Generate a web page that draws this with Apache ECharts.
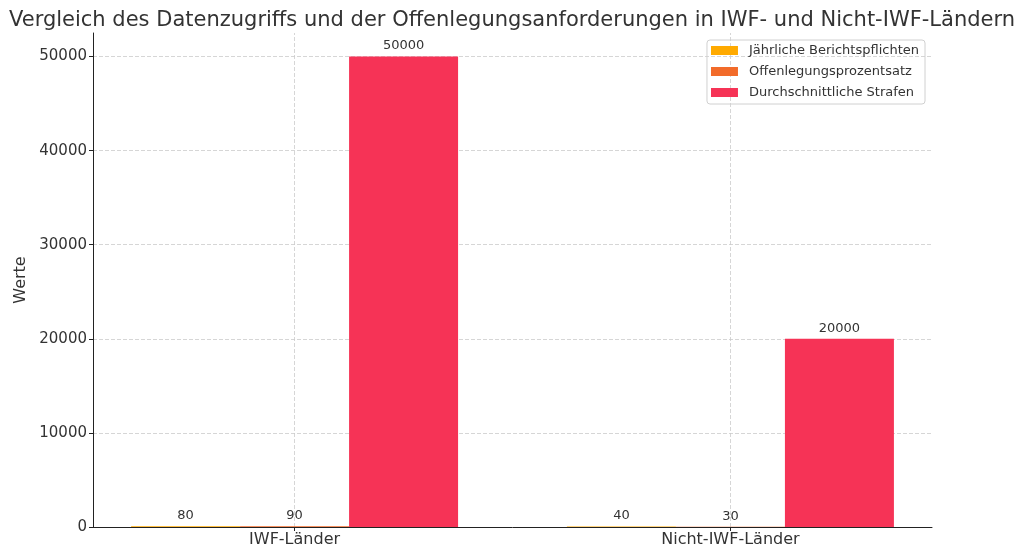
<!DOCTYPE html>
<html><head><meta charset="utf-8">
<script src="https://cdn.jsdelivr.net/npm/echarts@6/dist/echarts.min.js"></script>
<style>html,body{margin:0;padding:0;background:#fff}#c{width:1024px;height:557px}</style>
</head><body><div id="c"></div>
<script>
const categories = ['IWF-Länder', 'Nicht-IWF-Länder'];
const seriesNames = ['Jährliche Berichtspflichten', 'Offenlegungsprozentsatz', 'Durchschnittliche Strafen'];
const berichtspflichten = [80, 40];
const offenlegung = [90, 30];
const strafen = [50000, 20000];
const yTicks = [0, 10000, 20000, 30000, 40000, 50000];
const colors = ['#ffaa00', '#f26b2a', '#f63356'];

const values = [berichtspflichten, offenlegung, strafen];
const FONT = 'DejaVu Sans';
const chart = echarts.init(document.getElementById('c'));
const series = values.map((vals, i) => ({
  name: seriesNames[i],
  type: 'bar',
  data: vals.map((v, j) => [j, v]),
  barWidth: 109,
  barGap: '0%',
  itemStyle: { color: colors[i] },
  label: { show: true, position: 'top', distance: 4, color: '#333', fontFamily: FONT, fontSize: 13,
           formatter: p => String(p.value[1]) },
  z: 3
}));
series[1].markLine = {
  silent: true, symbol: 'none', label: { show: false }, z: 1,
  lineStyle: { color: '#cccccc', type: [4, 2], width: 0.8 },
  data: categories.map((c, j) => ({ xAxis: j }))
};
chart.setOption({
  animation: false,
  color: colors,
  title: { text: 'Vergleich des Datenzugriffs und der Offenlegungsanforderungen in IWF- und Nicht-IWF-Ländern',
           left: 'center', top: 5, textStyle: { fontFamily: FONT, fontSize: 21, fontWeight: 'normal', color: '#333' } },
  legend: {
    orient: 'vertical', right: 99, top: 40, data: seriesNames,
    icon: 'rect', itemWidth: 27, itemHeight: 9, itemGap: 8,
    borderColor: '#d0d0d0', borderWidth: 1, borderRadius: 3, padding: [4, 6, 5, 4],
    textStyle: { fontFamily: FONT, fontSize: 13, color: '#333', padding: [0, 0, 0, 6] }
  },
  grid: { left: 93, right: 92, top: 33, bottom: 30, containLabel: false },
  xAxis: {
    type: 'value', min: -0.4625, max: 1.4625,
    axisLine: { onZero: false, lineStyle: { color: '#222', width: 1 } },
    axisTick: { show: true, customValues: [0, 1], length: 4, lineStyle: { color: '#222' } },
    axisLabel: { customValues: [0, 1], formatter: v => categories[Math.round(v)] || '',
                 fontFamily: FONT, fontSize: 16, color: '#333', margin: 5 },
    splitLine: { show: false }
  },
  yAxis: {
    type: 'value', min: 0, max: 52500, interval: 10000,
    name: 'Werte', nameLocation: 'middle', nameGap: 62,
    nameTextStyle: { fontFamily: FONT, fontSize: 16, color: '#333' },
    axisLine: { show: true, onZero: false, lineStyle: { color: '#222', width: 1 } },
    axisTick: { show: true, length: 4, lineStyle: { color: '#222' } },
    axisLabel: { fontFamily: FONT, fontSize: 15, color: '#333', margin: 6, showMaxLabel: false,
                 formatter: v => (yTicks.indexOf(v) >= 0 ? String(v) : '') },
    splitLine: { show: true, showMinLine: false, showMaxLine: false,
                 lineStyle: { color: '#cccccc', type: [4, 2], width: 0.8 } }
  },
  series: series
});
</script></body></html>
